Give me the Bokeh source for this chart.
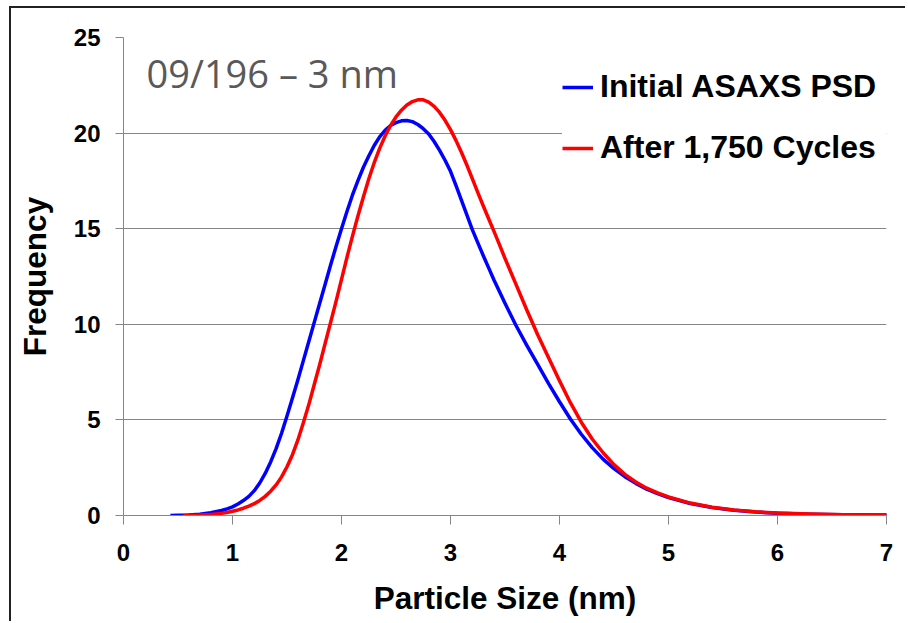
from bokeh.plotting import figure
from bokeh.models import Legend, LegendItem, Label, FixedTicker
from bokeh.embed import file_html
from bokeh.resources import INLINE

# ---- data ----
x_initial = [0.43, 0.5, 0.6, 0.7, 0.8, 0.9, 0.95,
             1.00, 1.05, 1.10, 1.15, 1.20, 1.25, 1.30, 1.35, 1.40, 1.45,
             1.50, 1.55, 1.60, 1.65, 1.70, 1.75, 1.80, 1.85, 1.90, 1.95,
             2.00, 2.05, 2.10, 2.15, 2.20, 2.25, 2.30, 2.35, 2.40, 2.45,
             2.50, 2.55, 2.60, 2.65, 2.70, 2.75, 2.80, 2.85, 2.90, 2.95,
             3.00, 3.05, 3.10, 3.15, 3.20, 3.25, 3.30, 3.35, 3.40, 3.45, 3.50,
             3.6, 3.7, 3.8, 3.9, 4.0, 4.1, 4.2, 4.3, 4.4, 4.5, 4.6, 4.7, 4.8, 4.9,
             5.0, 5.2, 5.4, 5.6, 5.8, 6.0, 6.3, 6.6, 7.05]
y_initial = [0.0, 0.01, 0.03, 0.07, 0.14, 0.26, 0.35,
             0.45, 0.60, 0.78, 1.00, 1.30, 1.70, 2.20, 2.80, 3.50, 4.30,
             5.20, 6.15, 7.10, 8.10, 9.10, 10.10, 11.10, 12.10, 13.10, 14.07,
             15.00, 15.90, 16.75, 17.50, 18.20, 18.80, 19.35, 19.80, 20.15, 20.40,
             20.55, 20.64, 20.66, 20.60, 20.45, 20.23, 19.95, 19.56, 19.10, 18.58,
             18.00, 17.27, 16.50, 15.72, 14.95, 14.27, 13.60, 12.95, 12.30, 11.70, 11.10,
             9.95, 8.90, 7.90, 6.90, 5.95, 5.05, 4.25, 3.55, 2.95, 2.45, 2.03, 1.68, 1.38, 1.14,
             0.94, 0.63, 0.42, 0.28, 0.18, 0.12, 0.07, 0.04, 0.02]

x_after = [0.55, 0.6, 0.7, 0.8, 0.9, 0.95,
           1.00, 1.05, 1.10, 1.15, 1.20, 1.25, 1.30, 1.35, 1.40, 1.45,
           1.50, 1.55, 1.60, 1.65, 1.70, 1.75, 1.80, 1.85, 1.90, 1.95,
           2.00, 2.05, 2.10, 2.15, 2.20, 2.25, 2.30, 2.35, 2.40, 2.45,
           2.50, 2.55, 2.60, 2.65, 2.70, 2.75, 2.80, 2.85, 2.90, 2.95,
           3.00, 3.05, 3.10, 3.15, 3.20, 3.25, 3.30, 3.35, 3.40, 3.45, 3.50,
           3.6, 3.7, 3.8, 3.9, 4.0, 4.1, 4.2, 4.3, 4.4, 4.5, 4.6, 4.7, 4.8, 4.9,
           5.0, 5.2, 5.4, 5.6, 5.8, 6.0, 6.3, 6.6, 7.05]
y_after = [0.0, 0.01, 0.02, 0.05, 0.11, 0.16,
           0.22, 0.29, 0.38, 0.49, 0.62, 0.79, 1.00, 1.27, 1.60, 2.02,
           2.55, 3.18, 3.95, 4.85, 5.80, 6.85, 7.90, 9.00, 10.10, 11.20,
           12.35, 13.50, 14.60, 15.65, 16.65, 17.60, 18.45, 19.20, 19.85, 20.40,
           20.85, 21.20, 21.47, 21.65, 21.74, 21.74, 21.62, 21.40, 21.08, 20.67,
           20.18, 19.62, 19.00, 18.33, 17.62, 16.90, 16.20, 15.52, 14.85, 14.15, 13.45,
           12.10, 10.75, 9.45, 8.25, 7.05, 5.90, 4.88, 4.00, 3.28, 2.66, 2.15, 1.75, 1.43, 1.18,
           0.97, 0.65, 0.43, 0.29, 0.19, 0.13, 0.075, 0.045, 0.025]

x_ticks = [0, 1, 2, 3, 4, 5, 6, 7]
y_ticks = [0, 5, 10, 15, 20, 25]
series_labels = ["Initial ASAXS PSD", "After 1,750 Cycles"]
chart_note = "09/196 \u2013 3 nm"
x_title = "Particle Size (nm)"
y_title = "Frequency"

GRAY = "#868686"
FONT = "Liberation Sans"

p = figure(width=896, height=615, x_range=(0, 7), y_range=(0, 25),
           output_backend="svg", toolbar_location=None,
           min_border_left=112, min_border_right=21, min_border_top=29, min_border_bottom=108)
p.styles = {"margin-left": "9px", "margin-top": "6px",
            "border-top": "2px solid #222222", "border-left": "2px solid #222222"}
p.outline_line_color = None
p.background_fill_color = "white"
p.border_fill_color = "white"

rb = p.line(x_initial, y_initial, line_color="#0000FF", line_width=3.5, line_join="round")
rr = p.line(x_after, y_after, line_color="#FF0000", line_width=3.5, line_join="round")

# axes
p.xaxis.ticker = FixedTicker(ticks=x_ticks)
p.yaxis.ticker = FixedTicker(ticks=y_ticks)
for ax in (p.xaxis[0], p.yaxis[0]):
    ax.axis_line_color = GRAY
    ax.axis_line_width = 1
    ax.major_tick_line_color = GRAY
    ax.major_tick_in = 0
    ax.minor_tick_line_color = None
    ax.major_label_text_font = FONT
    ax.major_label_text_font_style = "bold"
    ax.major_label_text_font_size = "24px"
    ax.major_label_text_color = "black"
    ax.axis_label_text_font = FONT
    ax.axis_label_text_font_style = "bold"
    ax.axis_label_text_font_size = "31.5px"
    ax.axis_label_text_color = "black"
p.xaxis.major_tick_out = 9
p.xaxis.major_label_standoff = 19
p.xaxis.axis_label = x_title
p.xaxis.axis_label_standoff = 16
p.yaxis.major_tick_out = 8
p.yaxis.major_label_standoff = 15
p.yaxis.axis_label = y_title
p.yaxis.axis_label_standoff = 18

p.xgrid.grid_line_color = None
p.ygrid.ticker = FixedTicker(ticks=y_ticks)
p.ygrid.grid_line_color = GRAY
p.ygrid.grid_line_width = 1

# note text
note = Label(x=23, y=443, x_units="screen", y_units="screen", text=chart_note,
             text_font="Open Sans", text_font_size="38px", text_color="#595959",
             text_baseline="alphabetic")
p.add_layout(note)

legend = Legend(items=[LegendItem(label=series_labels[0], renderers=[rb]),
                       LegendItem(label=series_labels[1], renderers=[rr])],
                location=(439, 349), orientation="vertical")
legend.label_text_font = FONT
legend.label_text_font_style = "bold"
legend.label_text_font_size = "32px"
legend.label_text_color = "black"
legend.glyph_width = 31
legend.glyph_height = 36
legend.label_height = 36
legend.label_width = 300
legend.label_standoff = 7
legend.spacing = 24
legend.padding = 10
legend.margin = 0
legend.border_line_color = None
legend.background_fill_color = "white"
legend.background_fill_alpha = 1.0
p.add_layout(legend)

open("out.html", "w").write(file_html(p, INLINE))
